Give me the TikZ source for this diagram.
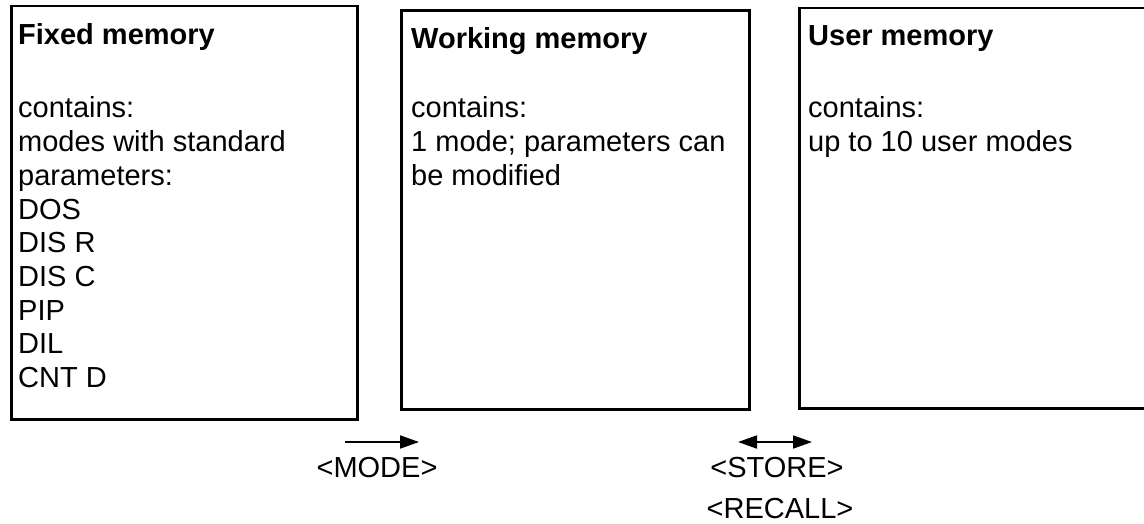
\documentclass[tikz,border=0pt]{standalone}
\usepackage{fontspec}
\setmainfont{Liberation Sans}
\usetikzlibrary{arrows.meta}

\tikzset{
  membox/.style={draw, line width=2.5pt, inner sep=0pt, anchor=north west},
  boxtitle/.style={anchor=base west, inner sep=0pt, font=\fontsize{29}{33.7}\selectfont\bfseries},
  boxbody/.style={anchor=base west, inner sep=0pt},
  keylabel/.style={anchor=base, inner sep=0pt, font=\fontsize{29}{33.7}\selectfont},
  flow/.style={line width=1.8pt},
  tip/.tip={Triangle[length=19pt,width=13pt]}
}
\newcommand{\bodytext}[1]{\parbox[t]{330pt}{\fontsize{29}{33.7}\selectfont\raggedright #1}}

\begin{document}
\begin{tikzpicture}[x=1pt,y=-1pt]
  \clip (0,0) rectangle (1144,524);

  % the three memory areas
  \node[membox, minimum width=346pt, minimum height=413pt] (fixed) at (10,5) {};
  \node[membox, minimum width=348pt, minimum height=398.5pt] (working) at (400,9.5) {};
  \node[membox, minimum width=380pt, minimum height=400pt] (user) at (798,7) {};

  % fixed memory
  \node[boxtitle] (fixedtitle) at (18,45) {Fixed memory};
  \node[boxbody] (fixedbody) at (18,118) {\bodytext{contains:\\modes with standard\\parameters:\\DOS\\DIS R\\DIS C\\PIP\\DIL\\CNT D}};

  % working memory
  \node[boxtitle] (worktitle) at (411,49) {Working memory};
  \node[boxbody] (workbody) at (411,118) {\bodytext{contains:\\1 mode; parameters can\\be modified}};

  % user memory
  \node[boxtitle] (usertitle) at (808,46) {User memory};
  \node[boxbody] (userbody) at (808,118) {\bodytext{contains:\\up to 10 user modes}};

  % key labels below the boxes
  \node[keylabel] (mode) at (377,477) {<MODE>};
  \node[keylabel] (store) at (777,477) {<STORE>};
  \node[keylabel] (recall) at (780,518) {<RECALL>};

  % transfer arrows
  \coordinate (modeL) at (345,442);
  \coordinate (modeR) at (419,442);
  \coordinate (storeL) at (738,442);
  \coordinate (storeR) at (812,442);
  \draw[flow, -tip] (modeL) -- (modeR);
  \draw[flow, tip-tip] (storeL) -- (storeR);
\end{tikzpicture}
\end{document}
